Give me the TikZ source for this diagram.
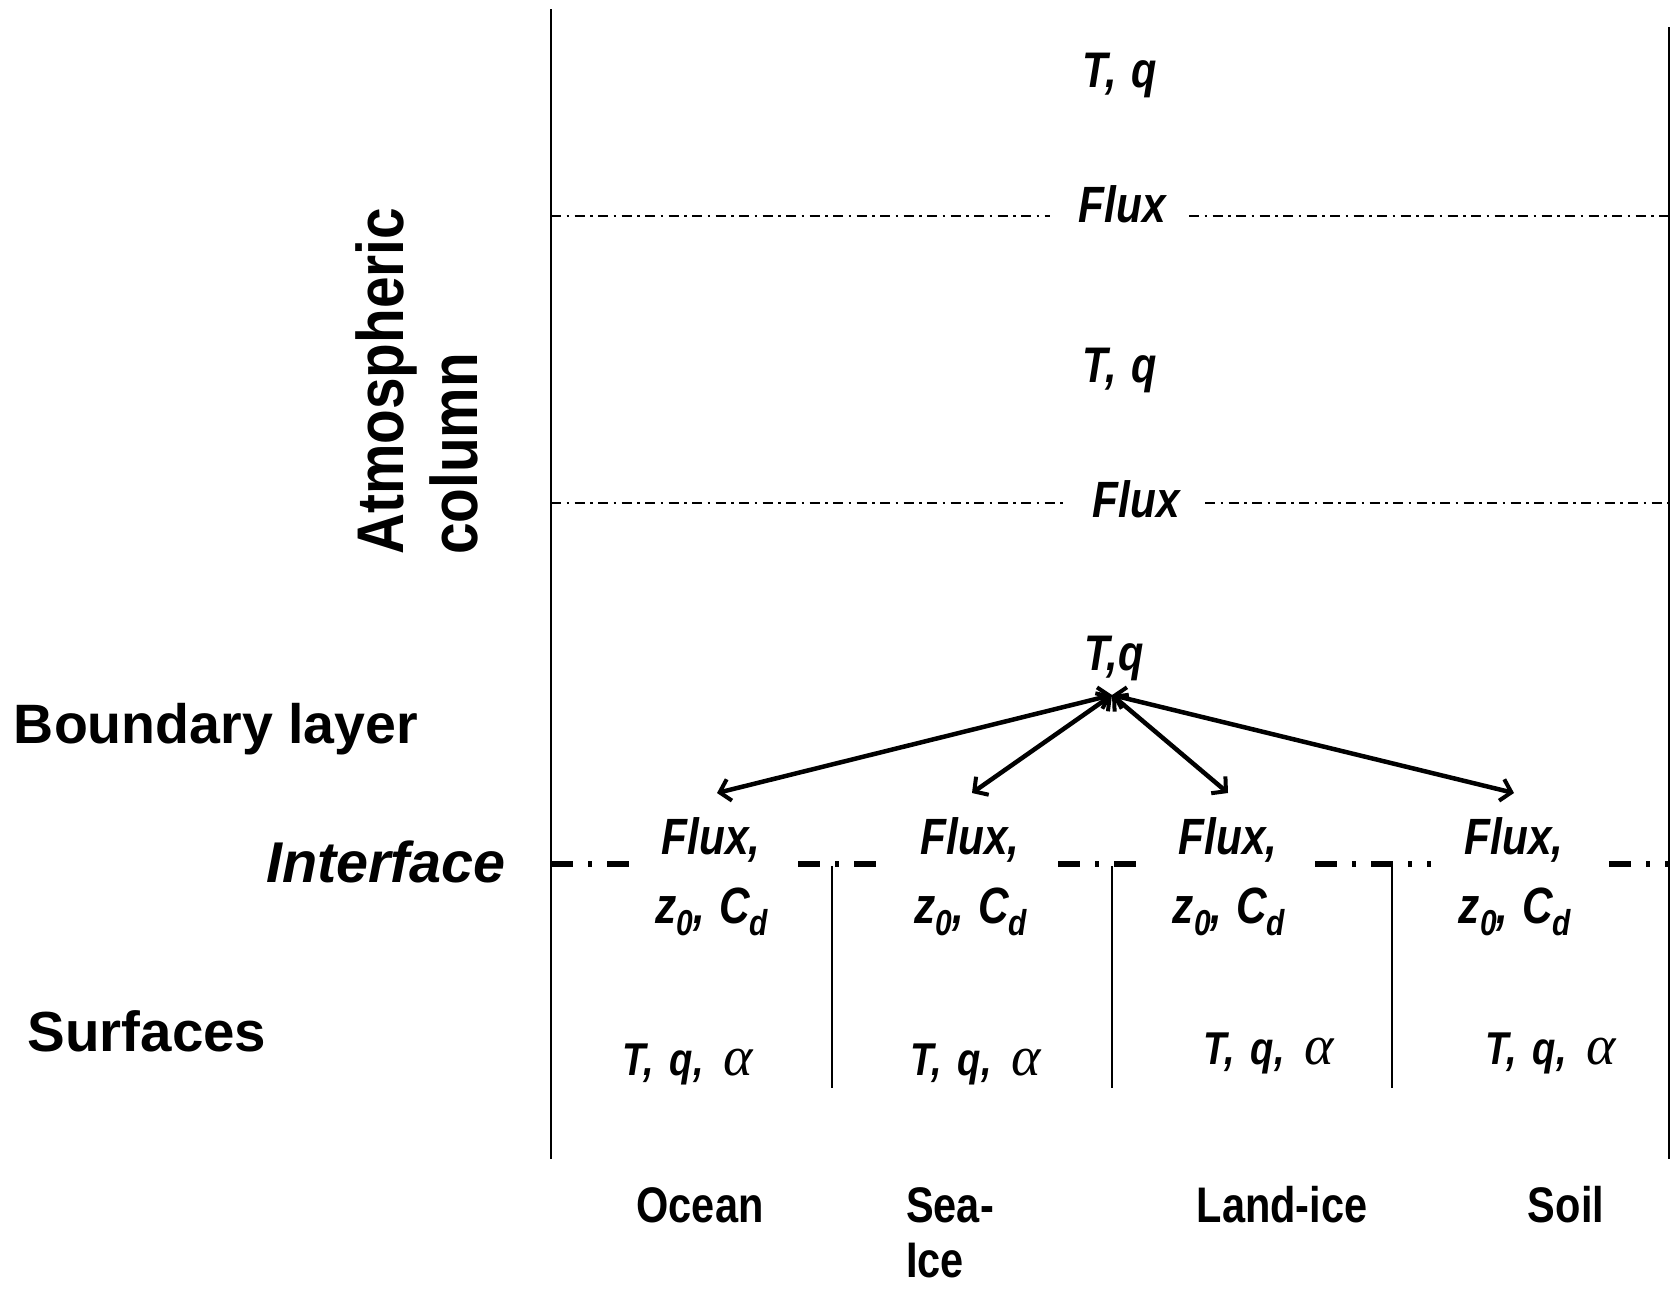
\documentclass[tikz,border=0pt]{standalone}
\usepackage{fontspec}
\setmainfont{Liberation Sans}
\newfontfamily\narrowfont[FakeStretch=0.83]{Liberation Sans}
\newfontfamily\atmfont[FakeStretch=0.86]{Liberation Sans}
\newfontfamily\greekfont{Liberation Serif}
\usetikzlibrary{arrows.meta}
\newcommand{\lowidx}[1]{\raisebox{-0.24em}{\fontsize{36}{36}\selectfont #1}}
\begin{document}
\begin{tikzpicture}[x=1pt,y=-1pt,
  vline/.style={line width=2pt},
  fluxline/.style={line width=1.5pt, dash pattern=on 10pt off 5.5pt on 2.5pt off 5.5pt},
  ifline/.style={line width=6pt, dash pattern=on 22pt off 15pt on 4pt off 15pt},
  barb/.tip={Straight Barb[length=10pt,width=22pt,line width=4pt]},
  biarrow/.style={line width=4.5pt, barb-barb},
  nlab/.style={inner sep=0pt, font=\narrowfont\bfseries\itshape\fontsize{51}{60}\selectfont},
  tqlab/.style={inner sep=0pt, font=\narrowfont\bfseries\itshape\fontsize{50}{58}\selectfont},
  blab/.style={inner sep=0pt, font=\narrowfont\bfseries\fontsize{50}{60}\selectfont},
  side/.style={inner sep=0pt, font=\bfseries\fontsize{55.5}{64}\selectfont},
  atm/.style={inner sep=0pt, rotate=90, anchor=base west, font=\atmfont\bfseries\fontsize{66}{72}\selectfont}
]
\useasboundingbox (0,0) rectangle (1672,1288);

% frame lines
\coordinate (LT) at (551,9);
\coordinate (LB) at (551,1159);
\coordinate (RT) at (1669,27);
\coordinate (RB) at (1669,1159);
\draw[vline] (LT) -- (LB);
\draw[vline] (RT) -- (RB);

% upper levels
\node[tqlab] (tq1) at (1120,75) {T,\hspace{15pt}q};
\node[nlab] (flux1) at (1122,204) {Flux};
\coordinate (f1l) at (551,216);
\coordinate (f1a) at (1050,216);
\coordinate (f1b) at (1189,216);
\coordinate (f1r) at (1669,216);
\draw[fluxline] (f1l) -- (f1a);
\draw[fluxline] (f1b) -- (f1r);

\node[tqlab] (tq2) at (1120,370) {T,\hspace{15pt}q};
\node[nlab] (flux2) at (1136,499) {Flux};
\coordinate (f2l) at (551,503);
\coordinate (f2a) at (1066,503);
\coordinate (f2b) at (1205,503);
\coordinate (f2r) at (1669,503);
\draw[fluxline] (f2l) -- (f2a);
\draw[fluxline] (f2b) -- (f2r);

% boundary layer
\node[tqlab] (tq3) at (1114,658) {T,q};
\coordinate (apex) at (1112,695);
\coordinate (t1) at (717,793);
\coordinate (t2) at (972,793);
\coordinate (t3) at (1228,793);
\coordinate (t4) at (1514,793);
\draw[biarrow] (apex) -- (t1);
\draw[biarrow] (apex) -- (t2);
\draw[biarrow] (apex) -- (t3);
\draw[biarrow] (apex) -- (t4);

% interface
\foreach \a/\b [count=\i] in {551/632, 798/886, 1058/1146, 1315/1431, 1609/1669}{
  \coordinate (i\i a) at (\a,864);
  \coordinate (i\i b) at (\b,864);
  \draw[ifline] (i\i a) -- (i\i b);
}
\foreach \x [count=\i] in {711,970,1228,1514}{
  \node[nlab] (fx\i) at (\x,840) {Flux,};
  \node[nlab] (zc\i) at (\x+1,912) {z\lowidx{0},\hspace{14pt}C\lowidx{d}};
}

% surface separators
\foreach \x [count=\i] in {832,1112,1392}{
  \coordinate (s\i t) at (\x,866);
  \coordinate (s\i b) at (\x,1088);
  \draw[vline] (s\i t) -- (s\i b);
}

% surface variables
\foreach \x/\y [count=\i] in {688/1064, 976/1064, 1269/1053, 1551/1053}{
  \node[inner sep=0pt] (sv\i) at (\x,\y) {{\narrowfont\bfseries\itshape\fontsize{46}{54}\selectfont T,\hspace{16pt}q,}\hspace{20pt}{\greekfont\itshape\fontsize{56}{60}\selectfont α}};
}

% bottom labels
\node[blab] (ocean) at (700,1205) {Ocean};
\node[blab, anchor=west] (sea1) at (906,1205) {Sea-};
\node[blab, anchor=west] (sea2) at (906,1261) {Ice};
\node[blab] (land) at (1282,1205) {Land-ice};
\node[blab] (soil) at (1566,1205) {Soil};

% side labels
\node[atm] (atm1) at (403,555) {Atmospheric};
\node[atm] (atm2) at (477,555) {column};
\node[side] (bl) at (216,729) {Boundary layer};
\node[side, font=\bfseries\itshape\fontsize{57.5}{64}\selectfont] (intf) at (386,862) {Interface};
\node[side, font=\bfseries\fontsize{56.5}{64}\selectfont] (surf) at (147,1031) {Surfaces};
\end{tikzpicture}
\end{document}
